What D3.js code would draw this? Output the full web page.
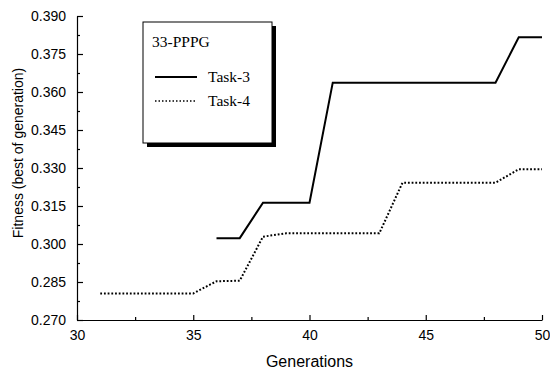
<!DOCTYPE html>
<html>
<head>
<meta charset="utf-8">
<script src="https://cdn.jsdelivr.net/npm/d3@7"></script>
<style>
  body { margin: 0; background: #fff; }
  .axis text { font-family: "Liberation Sans", Arial, sans-serif; font-size: 14px; fill: #000; }
  .axis path, .axis line { stroke: #000; stroke-width: 1.2; }
</style>
</head>
<body>
<div id="chart"></div>
<script>
// best-of-generation fitness
var gens3 = [36, 37, 38, 39, 40, 41, 42, 43, 44, 45, 46, 47, 48, 49, 50];
var task3 = [0.3023, 0.3023, 0.3163, 0.3163, 0.3163, 0.3637, 0.3637, 0.3637, 0.3637, 0.3637, 0.3637, 0.3637, 0.3637, 0.3816, 0.3816];

var gens4 = [31, 32, 33, 34, 35, 36, 37, 38, 39, 40, 41, 42, 43, 44, 45, 46, 47, 48, 49, 50];
var task4 = [0.2805, 0.2805, 0.2805, 0.2805, 0.2805, 0.2853, 0.2855, 0.3029, 0.3042, 0.3042, 0.3042, 0.3042, 0.3042, 0.3242, 0.3242, 0.3242, 0.3242, 0.3242, 0.3295, 0.3295];

var xTicks = [30, 35, 40, 45, 50];
var xMinor = [32.5, 37.5, 42.5, 47.5];
var yTicks = [0.270, 0.285, 0.300, 0.315, 0.330, 0.345, 0.360, 0.375, 0.390];
var yMinor = [0.2775, 0.2925, 0.3075, 0.3225, 0.3375, 0.3525, 0.3675, 0.3825];

var legendTitle = "33-PPPG";
var seriesNames = ["Task-3", "Task-4"];

var W = 550, H = 376;
var margin = {top: 16, right: 8, bottom: 56, left: 77};

var svg = d3.select("#chart").append("svg")
	.attr("width", W)
	.attr("height", H);

var x = d3.scaleLinear().domain([30, 50]).range([margin.left, W - margin.right]);
var y = d3.scaleLinear().domain([0.270, 0.390]).range([H - margin.bottom, margin.top]);

// axes, ticks pointing inward
svg.append("g")
	.attr("class", "axis")
	.attr("transform", "translate(0," + (H - margin.bottom) + ")")
	.call(d3.axisBottom(x).tickValues(xTicks).tickSizeInner(-5).tickSizeOuter(0).tickPadding(10).tickFormat(d3.format("d")));

svg.append("g")
	.attr("class", "axis")
	.attr("transform", "translate(0," + (H - margin.bottom) + ")")
	.call(d3.axisBottom(x).tickValues(xMinor).tickSizeInner(-3).tickSizeOuter(0).tickFormat(""))
	.select(".domain").remove();

svg.append("g")
	.attr("class", "axis")
	.attr("transform", "translate(" + margin.left + ",0)")
	.call(d3.axisLeft(y).tickValues(yTicks).tickSizeInner(-6).tickSizeOuter(0).tickPadding(11).tickFormat(d3.format(".3f")));

svg.append("g")
	.attr("class", "axis")
	.attr("transform", "translate(" + margin.left + ",0)")
	.call(d3.axisLeft(y).tickValues(yMinor).tickSizeInner(-3).tickSizeOuter(0).tickFormat(""))
	.select(".domain").remove();

// axis titles
svg.append("text")
	.attr("x", (x(30) + x(50)) / 2)
	.attr("y", 367)
	.attr("text-anchor", "middle")
	.attr("font-family", "Liberation Sans, Arial, sans-serif")
	.attr("font-size", "16px")
	.text("Generations");

svg.append("text")
	.attr("transform", "translate(23,153) rotate(-90)")
	.attr("text-anchor", "middle")
	.attr("font-family", "Liberation Sans, Arial, sans-serif")
	.attr("font-size", "14px")
	.text("Fitness (best of generation)");

// lines
var line = d3.line()
	.x(function(d) { return x(d[0]); })
	.y(function(d) { return y(d[1]); });

svg.append("path")
	.datum(d3.zip(gens3, task3))
	.attr("fill", "none")
	.attr("stroke", "#000")
	.attr("stroke-width", 2)
	.attr("d", line);

svg.append("path")
	.datum(d3.zip(gens4, task4))
	.attr("fill", "none")
	.attr("stroke", "#000")
	.attr("stroke-width", 2)
	.attr("stroke-dasharray", "1.8,1.9")
	.attr("d", line);

// legend box with drop shadow
var lg = svg.append("g").attr("transform", "translate(143,22)");
lg.append("rect")
	.attr("x", 4).attr("y", 4)
	.attr("width", 129).attr("height", 121)
	.attr("fill", "#000");
lg.append("rect")
	.attr("width", 129).attr("height", 121)
	.attr("fill", "#fff")
	.attr("stroke", "#000")
	.attr("stroke-width", 1);

lg.append("text")
	.attr("x", 9).attr("y", 25)
	.attr("font-family", "Liberation Serif, Times New Roman, serif")
	.attr("font-size", "15.5px")
	.text(legendTitle);

seriesNames.forEach(function(name, i) {
	var ly = 55 + i * 24;
	lg.append("line")
		.attr("x1", 12).attr("x2", 54)
		.attr("y1", ly).attr("y2", ly)
		.attr("stroke", "#000")
		.attr("stroke-width", i === 0 ? 2 : 1.6)
		.attr("stroke-dasharray", i === 0 ? null : "1.5,2");
	lg.append("text")
		.attr("x", 65).attr("y", ly + 5)
		.attr("font-family", "Liberation Serif, Times New Roman, serif")
		.attr("font-size", "15.5px")
		.text(name);
});
</script>
</body>
</html>
